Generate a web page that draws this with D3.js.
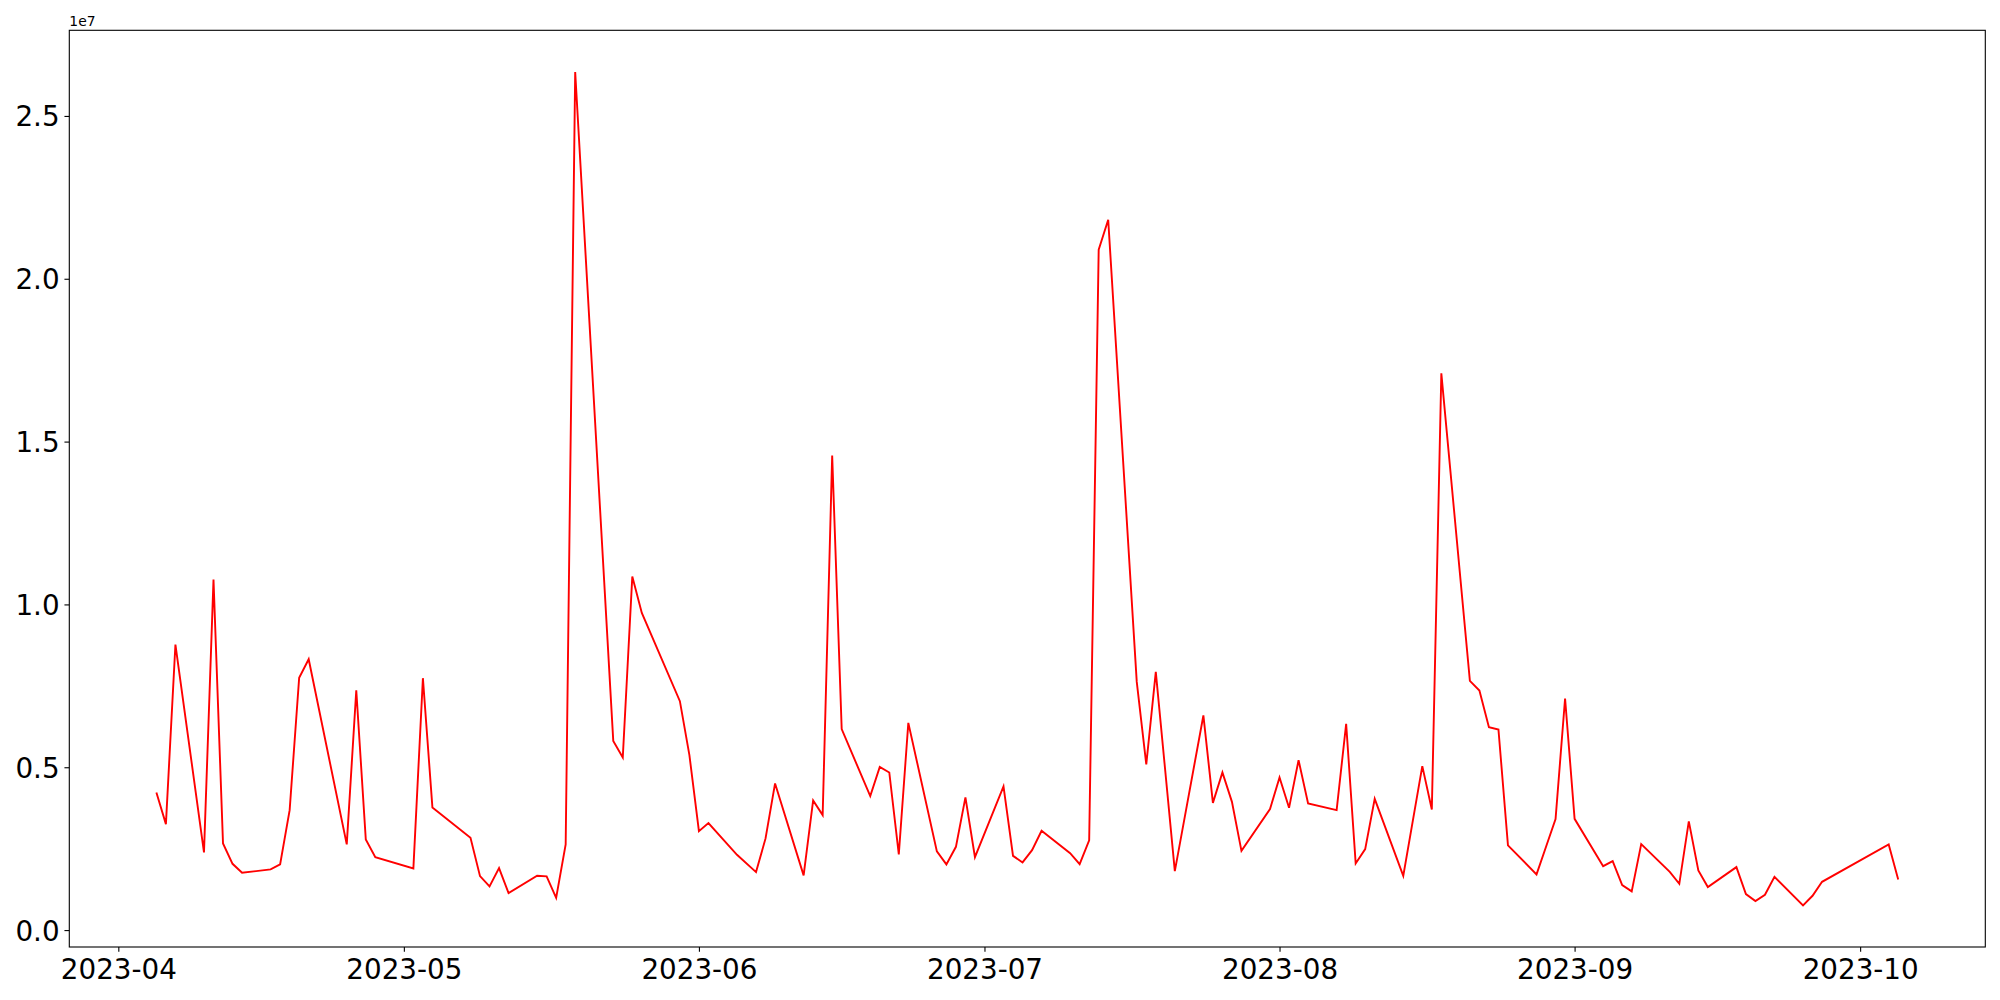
<!DOCTYPE html>
<html>
<head>
<meta charset="utf-8">
<script src="https://cdn.jsdelivr.net/npm/d3@7"></script>
<style>
  html, body { margin: 0; padding: 0; background: #fff; }
  svg { display: block; font-family: "DejaVu Sans", sans-serif; }
</style>
</head>
<body>
<svg id="chart" width="2000" height="1000"></svg>
<script>
// ---- data ----
const dates = [
  "2023-04-05","2023-04-06","2023-04-07","2023-04-10","2023-04-11","2023-04-12","2023-04-13","2023-04-14",
  "2023-04-17","2023-04-18","2023-04-19","2023-04-20","2023-04-21","2023-04-25","2023-04-26","2023-04-27","2023-04-28",
  "2023-05-02","2023-05-03","2023-05-04","2023-05-08","2023-05-09","2023-05-10","2023-05-11","2023-05-12",
  "2023-05-15","2023-05-16","2023-05-17","2023-05-18","2023-05-19","2023-05-23","2023-05-24","2023-05-25","2023-05-26",
  "2023-05-30","2023-05-31","2023-06-01","2023-06-02","2023-06-05","2023-06-07","2023-06-08","2023-06-09",
  "2023-06-12","2023-06-13","2023-06-14","2023-06-15","2023-06-16","2023-06-19","2023-06-20","2023-06-21","2023-06-22","2023-06-23",
  "2023-06-26","2023-06-27","2023-06-28","2023-06-29","2023-06-30","2023-07-03","2023-07-04","2023-07-05","2023-07-06","2023-07-07",
  "2023-07-10","2023-07-11","2023-07-12","2023-07-13","2023-07-14","2023-07-17","2023-07-18","2023-07-19","2023-07-21",
  "2023-07-24","2023-07-25","2023-07-26","2023-07-27","2023-07-28","2023-07-31","2023-08-01","2023-08-02","2023-08-03","2023-08-04",
  "2023-08-07","2023-08-08","2023-08-09","2023-08-10","2023-08-11","2023-08-14","2023-08-16","2023-08-17","2023-08-18",
  "2023-08-21","2023-08-22","2023-08-23","2023-08-24","2023-08-25","2023-08-28","2023-08-29","2023-08-30","2023-08-31","2023-09-01",
  "2023-09-04","2023-09-05","2023-09-06","2023-09-07","2023-09-08","2023-09-11","2023-09-12","2023-09-13","2023-09-14","2023-09-15",
  "2023-09-18","2023-09-19","2023-09-20","2023-09-21","2023-09-22","2023-09-25","2023-09-26","2023-09-27","2023-10-04","2023-10-05"
];
const volumes = [
  4227000, 3254000, 8769000, 2385000, 10764000, 2661000, 2035000, 1759000,
  1863000, 2017000, 3683000, 7750000, 8318000, 2630000, 7366000, 2784000, 2241000,
  1894000, 7735000, 3766000, 2833000, 1657000, 1341000, 1903000, 1136000,
  1667000, 1648000, 991000, 2630000, 26350000, 5810000, 5300000, 10856000, 9739000,
  7029000, 5371000, 3039000, 3284000, 2311000, 1780000, 2815000, 4503000,
  1679000, 3981000, 3530000, 14570000, 6170000, 4113000, 5012000, 4840000, 2323000, 6363000,
  2416000, 2017000, 2557000, 4073000, 2241000, 4411000, 2280000, 2078000, 2455000, 3048000,
  2363000, 2026000, 2753000, 20893000, 21814000, 7621000, 5086000, 7928000, 1811000,
  6590000, 3907000, 4840000, 3938000, 2434000, 3714000, 4687000, 3754000, 5218000, 3889000,
  3683000, 6332000, 2047000, 2486000, 4030000, 1667000, 5034000, 3705000, 17096000,
  7652000, 7357000, 6231000, 6160000, 2600000, 1710000, 2557000, 3407000, 7112000, 3416000,
  1964000, 2118000, 1381000, 1188000, 2640000, 1789000, 1421000, 3336000, 1832000, 1320000,
  1934000, 1105000, 890000, 1083000, 1636000, 760000, 1053000, 1482000, 2630000, 1556000
];
const yTickValues = [0, 5e6, 1e7, 1.5e7, 2e7, 2.5e7];
const yTickLabels = ["0.0", "0.5", "1.0", "1.5", "2.0", "2.5"];
const xTickLabels = ["2023-04","2023-05","2023-06","2023-07","2023-08","2023-09","2023-10"];
const offsetLabel = "1e7";

// ---- layout ----
const margin = { left: 69.3, top: 30.3, right: 2000 - 1985.3, bottom: 1000 - 947 };
const W = 2000, H = 1000;
const iw = W - margin.left - margin.right;
const ih = H - margin.top - margin.bottom;
const tickFont = 27.78;

const parse = d3.utcParse("%Y-%m-%d");
const data = dates.map((d, i) => ({ date: parse(d), value: volumes[i] }));

const xExt = d3.extent(data, d => d.date);
const xPad = (xExt[1] - xExt[0]) * 0.05;
const x = d3.scaleUtc()
  .domain([new Date(+xExt[0] - xPad), new Date(+xExt[1] + xPad)])
  .range([0, iw]);

const yExt = d3.extent(data, d => d.value);
const yPad = (yExt[1] - yExt[0]) * 0.05;
const y = d3.scaleLinear()
  .domain([yExt[0] - yPad, yExt[1] + yPad])
  .range([ih, 0]);

const svg = d3.select("#chart");
const g = svg.append("g").attr("transform", `translate(${margin.left},${margin.top})`);

// line
const line = d3.line().x(d => x(d.date)).y(d => y(d.value));
g.append("path")
  .datum(data)
  .attr("fill", "none")
  .attr("stroke", "#ff0000")
  .attr("stroke-width", 1.9)
  .attr("stroke-linejoin", "miter")
  .attr("d", line);

// x axis
const xTicks = xTickLabels.map(s => d3.utcParse("%Y-%m")(s));
const xAxis = d3.axisBottom(x)
  .tickValues(xTicks)
  .tickFormat((d, i) => xTickLabels[i])
  .tickSize(4.86)
  .tickPadding(7);
const gx = g.append("g").attr("transform", `translate(0,${ih})`).call(xAxis);
gx.select(".domain").remove();
gx.selectAll(".tick line").attr("stroke", "#000").attr("stroke-width", 1.1);
gx.selectAll(".tick text")
  .attr("fill", "#000")
  .style("font-family", '"DejaVu Sans", sans-serif')
  .style("font-size", tickFont + "px");

// y axis
const yAxis = d3.axisLeft(y)
  .tickValues(yTickValues)
  .tickFormat((d, i) => yTickLabels[i])
  .tickSize(4.86)
  .tickPadding(4.86);
const gy = g.append("g").call(yAxis);
gy.select(".domain").remove();
gy.selectAll(".tick line").attr("stroke", "#000").attr("stroke-width", 1.1);
gy.selectAll(".tick text")
  .attr("fill", "#000")
  .attr("dy", "0.36em")
  .style("font-family", '"DejaVu Sans", sans-serif')
  .style("font-size", tickFont + "px");

// frame (spines)
g.append("rect")
  .attr("x", 0).attr("y", 0)
  .attr("width", iw).attr("height", ih)
  .attr("fill", "none")
  .attr("stroke", "#000")
  .attr("stroke-width", 1.1);

// offset text
g.append("text")
  .attr("x", 0)
  .attr("y", -4)
  .attr("fill", "#000")
  .style("font-family", '"DejaVu Sans", sans-serif')
  .style("font-size", "13.9px")
  .text(offsetLabel);
</script>
</body>
</html>
